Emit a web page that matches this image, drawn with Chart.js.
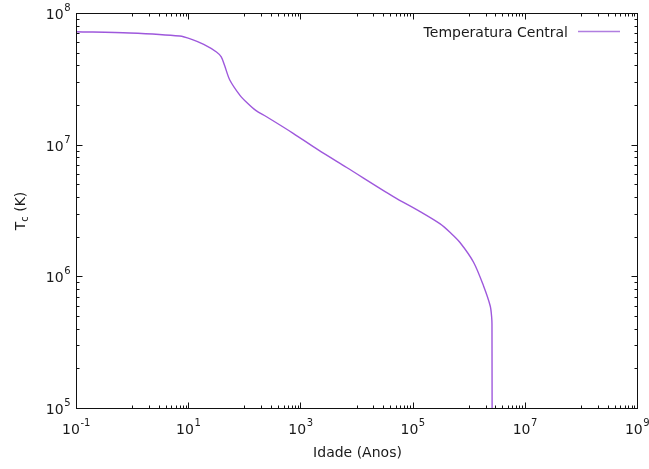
<!DOCTYPE html>
<html>
<head>
<meta charset="utf-8">
<script src="https://cdn.jsdelivr.net/npm/chart.js@4"></script>
<style>
html,body{margin:0;padding:0;background:#fff;}
#wrap{width:649px;height:469px;}
</style>
</head>
<body>
<div id="wrap"><canvas id="c" width="649" height="469"></canvas></div>
<script>
// ---- data ----
const ages = [0.1, 0.9, 7.05, 11.55, 18.9, 31.9, 38.8, 44.9, 55.1, 83.1, 112, 160, 249, 743, 2080, 6680, 45400, 136000, 310000, 468000, 705000, 1220000, 1840000, 2420000, 2570000, 2600000, 2620000];
const tc = [7.21e7, 7.05e7, 6.68e7, 6.30e7, 5.77e7, 5.06e7, 4.64e7, 3.95e7, 3.10e7, 2.38e7, 2.08e7, 1.82e7, 1.63e7, 1.22e7, 9.12e6, 6.71e6, 4.03e6, 3.10e6, 2.50e6, 2.15e6, 1.80e6, 1.28e6, 8.45e5, 5.95e5, 4.85e5, 4.3e5, 3e4];
const xTickValues = [0.1, 10, 1e3, 1e5, 1e7, 1e9];
const xTickExponents = ['-1', '1', '3', '5', '7', '9'];
const yTickValues = [1e5, 1e6, 1e7, 1e8];
const yTickExponents = ['5', '6', '7', '8'];
const seriesLabel = 'Temperatura Central';
const xTitle = 'Idade (Anos)';
const yTitleMain = 'T';
const yTitleSub = 'c';
const yTitleRest = ' (K)';

const lineColor = '#9e58dc';
const FONT = '"DejaVu Sans", Verdana, sans-serif';

const gnuplotPlugin = {
  id: 'gnuplotFrame',
  afterDraw(chart) {
    const ctx = chart.ctx;
    const a = chart.chartArea;
    const xs = chart.scales.x, ys = chart.scales.y;
    const L = Math.round(a.left) + 0.5, R = Math.round(a.right) + 0.5;
    const T = Math.round(a.top) + 0.5, B = Math.round(a.bottom) + 0.5;
    ctx.save();
    ctx.strokeStyle = '#111';
    ctx.lineWidth = 1;
    ctx.strokeRect(L, T, R - L, B - T);
    const major = 6, minor = 3;
    ctx.beginPath();
    const xMinor = [];
    for (let k = 0; k <= 8; k += 2) for (let m = 1; m <= 9; m++) xMinor.push(m * Math.pow(10, k));
    xMinor.forEach(v => {
      const p = Math.round(xs.getPixelForValue(v)) + 0.5;
      ctx.moveTo(p, B); ctx.lineTo(p, B - minor);
      ctx.moveTo(p, T); ctx.lineTo(p, T + minor);
    });
    xTickValues.forEach(v => {
      const p = Math.round(xs.getPixelForValue(v)) + 0.5;
      ctx.moveTo(p, B); ctx.lineTo(p, B - major);
      ctx.moveTo(p, T); ctx.lineTo(p, T + major);
    });
    for (let k = 5; k < 8; k++) for (let m = 2; m <= 9; m++) {
      const p = Math.round(ys.getPixelForValue(m * Math.pow(10, k))) + 0.5;
      ctx.moveTo(L, p); ctx.lineTo(L + minor, p);
      ctx.moveTo(R, p); ctx.lineTo(R - minor, p);
    }
    yTickValues.forEach(v => {
      const p = Math.round(ys.getPixelForValue(v)) + 0.5;
      ctx.moveTo(L, p); ctx.lineTo(L + major, p);
      ctx.moveTo(R, p); ctx.lineTo(R - major, p);
    });
    ctx.stroke();

    ctx.fillStyle = '#1a1a1a';
    ctx.textBaseline = 'alphabetic';
    const big = '14px ' + FONT, small = '10px ' + FONT;
    xTickValues.forEach((v, i) => {
      const p = xs.getPixelForValue(v);
      ctx.font = big; const w1 = ctx.measureText('10').width;
      ctx.font = small; const w2 = ctx.measureText(xTickExponents[i]).width;
      const x0 = p - (w1 + w2) / 2;
      ctx.textAlign = 'left';
      ctx.font = big; ctx.fillText('10', x0, 434);
      ctx.font = small; ctx.fillText(xTickExponents[i], x0 + w1 + 0.5, 426);
    });
    yTickValues.forEach((v, i) => {
      const p = ys.getPixelForValue(v);
      ctx.font = small; const w2 = ctx.measureText(yTickExponents[i]).width;
      ctx.font = big; const w1 = ctx.measureText('10').width;
      const xr = L - 6;
      ctx.textAlign = 'left';
      ctx.font = big; ctx.fillText('10', xr - w1 - w2 - 0.5, p + 6);
      ctx.font = small; ctx.fillText(yTickExponents[i], xr - w2, p - 2);
    });

    ctx.font = '14px ' + FONT;
    ctx.textAlign = 'center';
    ctx.fillText(xTitle, (a.left + a.right) / 2 + 1, 457);

    ctx.save();
    ctx.translate(25, 211);
    ctx.rotate(-Math.PI / 2);
    ctx.font = '14px ' + FONT;
    const wT = ctx.measureText(yTitleMain).width;
    const wR = ctx.measureText(yTitleRest).width;
    ctx.font = '10px ' + FONT;
    const wS = ctx.measureText(yTitleSub).width;
    const tot = wT + wS + wR;
    let x = -tot / 2;
    ctx.textAlign = 'left';
    ctx.font = '14px ' + FONT; ctx.fillText(yTitleMain, x, 0); x += wT;
    ctx.font = '10px ' + FONT; ctx.fillText(yTitleSub, x, 3); x += wS;
    ctx.font = '14px ' + FONT; ctx.fillText(yTitleRest, x, 0);
    ctx.restore();

    ctx.font = '14px ' + FONT;
    ctx.textAlign = 'right';
    ctx.fillText(chart.data.datasets[0].label, 568, 37);
    ctx.strokeStyle = '#b07ee0';
    ctx.lineWidth = 1.5;
    ctx.beginPath();
    ctx.moveTo(578, 31.5); ctx.lineTo(620, 31.5);
    ctx.stroke();
    ctx.restore();
  }
};

new Chart(document.getElementById('c'), {
  type: 'line',
  data: {
    datasets: [{
      label: seriesLabel,
      data: ages.map((x, i) => ({x: x, y: tc[i]})),
      borderColor: lineColor,
      borderWidth: 1.4,
      pointRadius: 0,
      fill: false,
      tension: 0.3
    }]
  },
  options: {
    responsive: false,
    animation: false,
    layout: {padding: {left: 0, right: 12, top: 13, bottom: 0}},
    plugins: {legend: {display: false}, tooltip: {enabled: false}},
    scales: {
      x: {
        type: 'logarithmic', min: 0.1, max: 1e9,
        grid: {display: false}, border: {display: false},
        ticks: {display: false},
        afterFit(s) { s.height = 61; }
      },
      y: {
        type: 'logarithmic', min: 1e5, max: 1e8,
        grid: {display: false}, border: {display: false},
        ticks: {display: false},
        afterFit(s) { s.width = 76; }
      }
    }
  },
  plugins: [gnuplotPlugin]
});
</script>
</body>
</html>
